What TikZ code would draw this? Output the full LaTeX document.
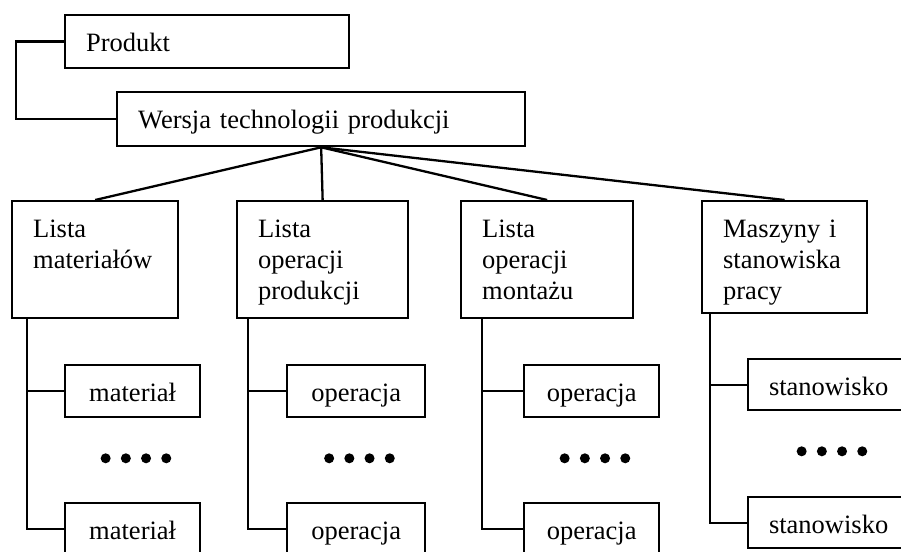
\documentclass[tikz,border=0pt]{standalone}
\usepackage{fontspec}
\setmainfont{Liberation Serif}
\usetikzlibrary{positioning}
\hyphenpenalty=10000

\begin{document}
\begin{tikzpicture}
    [x=1pt,y=-1pt,line width=2.3pt,
     every node/.style={draw, line width=2.3pt, anchor=north west, inner ysep=0pt, text height=36pt,
       font=\fontsize{26.5}{31}\selectfont},
     box/.style={inner xsep=21pt, align=left},
     item/.style={inner xsep=0pt, align=center, text depth=16pt}]
  \useasboundingbox (0,0) rectangle (901,551);

  \node[box, text width=242pt, text depth=17pt] (prod) at (64,14) {Produkt};
  \node[box, text width=366pt, text depth=18pt] (wersja) at (116,91) {Wersja technologii produkcji};

  \node[box, text width=124pt, text depth=81pt] (l1) at (11,200) {Lista\\materiałów};
  \node[box, text width=129pt, text depth=81pt] (l2) at (236,200) {Lista\\operacji\\produkcji};
  \node[box, text width=130pt, text depth=81pt] (l3) at (460,200) {Lista\\operacji\\montażu};
  \node[box, text width=123pt, text depth=76pt] (l4) at (701,200) {Maszyny i\\stanowiska\\pracy};

  \node[item, text width=135pt] (m1) at (64,364) {materiał};
  \node[item, text width=135pt] (m2) at (64,502) {materiał};
  \node[item, text width=138pt] (o1) at (286,364) {operacja};
  \node[item, text width=138pt] (o2) at (286,502) {operacja};
  \node[item, text width=135pt] (p1) at (523,364) {operacja};
  \node[item, text width=135pt] (p2) at (523,502) {operacja};
  \node[item, text width=161pt, text depth=15pt] (s1) at (747,358) {stanowisko};
  \node[item, text width=161pt, text depth=15pt] (s2) at (747,496) {stanowisko};

  \draw (prod.west) -- ++(-48,0) |- (wersja.west);
  \foreach \to in {l1,l2,l3,l4}
    \draw (wersja.south) -- (\to.north);

  \foreach \list/\off/\a/\b in {l1/16/m1/m2, l2/12/o1/o2, l3/22/p1/p2, l4/9/s1/s2}
  {
    \draw ([xshift=\off]\list.south west) coordinate (t) |- (\b.west);
    \draw (t |- \a.west) -- (\a.west);
    \foreach \i in {0,...,3}
      \fill ([xshift=-27+\i*20.2, yshift=-40]\a.south) circle (5pt);
  }
\end{tikzpicture}
\end{document}
